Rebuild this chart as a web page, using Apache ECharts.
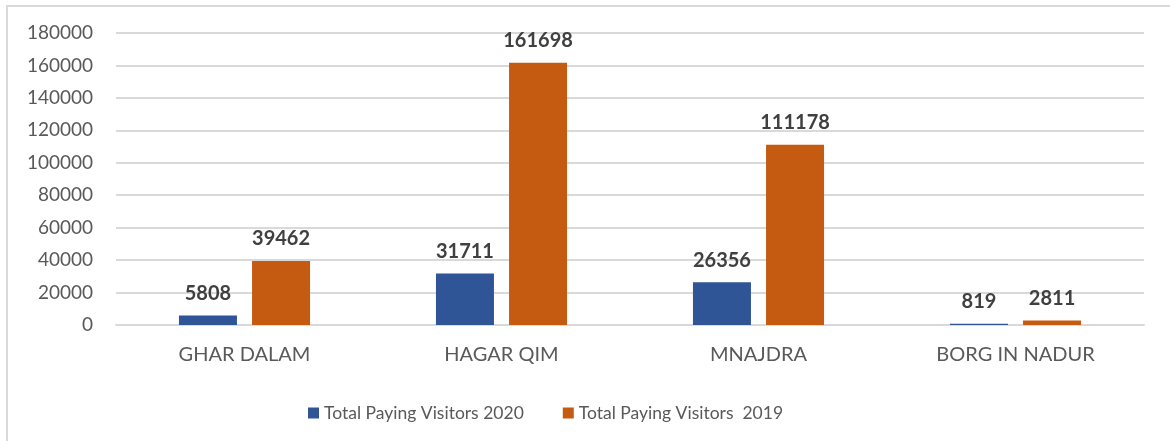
<!DOCTYPE html>
<html>
<head>
<meta charset="utf-8">
<script src="https://cdn.jsdelivr.net/npm/echarts@6/dist/echarts.min.js"></script>
<style>
  html, body { margin: 0; padding: 0; background: #fff; }
  .frame {
    position: absolute; left: 6px; top: 5px;
    width: 1200px; height: 500px;
    border: 2px solid #d9d9d9;
  }
  #container { position: absolute; left: 0; top: 0; width: 1170px; height: 441px; }
</style>
</head>
<body>
<div class="frame"></div>
<div id="container"></div>
<script>
// 数据
var sites = ['GHAR DALAM', 'HAGAR QIM', 'MNAJDRA', 'BORG IN NADUR'];
var visitors2020 = [5808, 31711, 26356, 819];
var visitors2019 = [39462, 161698, 111178, 2811];
var seriesNames = ['Total Paying Visitors 2020', 'Total Paying Visitors  2019'];

var myChart = echarts.init(document.getElementById('container'));
var font = 'Lato, "Open Sans", sans-serif';

var barLabel = {
  show: true,
  position: 'top',
  distance: 12,
  color: '#404040',
  fontFamily: font,
  fontWeight: 'bold',
  fontSize: 20
};

var option = {
  animation: false,
  color: ['#2F5597', '#C55A11'],
  grid: { left: 116, right: 26, top: 33, bottom: 116 },
  legend: {
    left: 303,
    top: 399,
    itemWidth: 11,
    itemHeight: 11,
    itemGap: 39,
    icon: 'rect',
    textStyle: { color: '#595959', fontFamily: font, fontSize: 17.5 },
    data: seriesNames
  },
  xAxis: {
    type: 'category',
    data: sites,
    axisLine: { lineStyle: { color: '#d9d9d9', width: 2 } },
    axisTick: { show: false },
    axisLabel: { color: '#595959', fontFamily: font, fontSize: 20, margin: 20 }
  },
  yAxis: {
    type: 'value',
    min: 0,
    max: 180000,
    interval: 20000,
    axisLine: { show: false },
    axisTick: { show: false },
    axisLabel: {
      color: '#595959', fontFamily: font, fontSize: 19, margin: 23,
      formatter: function (v) { return String(v); }
    },
    splitLine: { lineStyle: { color: '#d9d9d9', width: 2 } }
  },
  series: [
    {
      name: seriesNames[0],
      type: 'bar',
      barWidth: 58,
      barGap: '26%',
      data: visitors2020,
      label: barLabel
    },
    {
      name: seriesNames[1],
      type: 'bar',
      barWidth: 58,
      data: visitors2019,
      label: barLabel
    }
  ]
};
myChart.setOption(option);
</script>
</body>
</html>
